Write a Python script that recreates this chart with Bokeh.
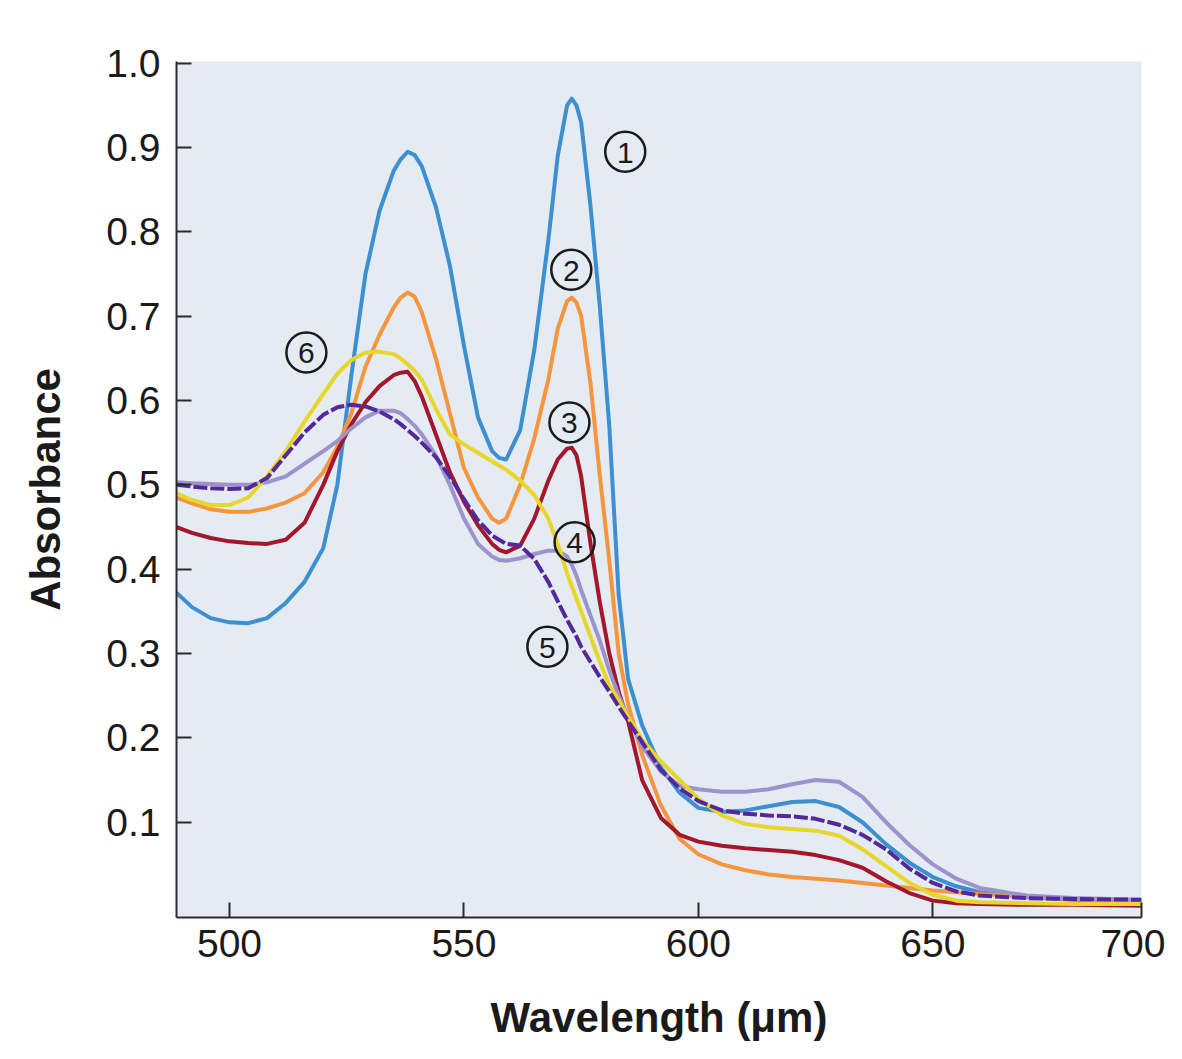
from bokeh.plotting import figure
from bokeh.models import ColumnDataSource, FixedTicker, Range1d
from bokeh.core.properties import value
from bokeh.embed import file_html
from bokeh.resources import INLINE

# ---------------- data ----------------
wavelength = [488.7, 492, 496, 500, 504, 508, 512, 516, 520, 523, 526, 529, 532, 535, 536.5, 538, 539.5,
              541, 544, 547, 550, 553, 556, 557.5, 559, 562, 565, 568, 570, 572, 573, 574, 575, 577, 579,
              581, 583, 585, 588, 592, 596, 600, 605, 610, 615, 620, 625, 630, 635, 640,
              645, 650, 655, 660, 670, 680, 694.5]

curve1 = [0.372, 0.355, 0.342, 0.337, 0.336, 0.342, 0.36, 0.385, 0.425, 0.50, 0.63, 0.75, 0.825, 0.872, 0.886, 0.895, 0.891,
          0.878, 0.83, 0.76, 0.665, 0.58, 0.54, 0.532, 0.53, 0.565, 0.66, 0.79, 0.89, 0.95, 0.958, 0.95, 0.93, 0.83, 0.71,
          0.57, 0.37, 0.27, 0.215, 0.165, 0.135, 0.117, 0.112, 0.114, 0.119, 0.124, 0.125, 0.118, 0.10, 0.074,
          0.052, 0.035, 0.024, 0.017, 0.011, 0.008, 0.005]

curve2 = [0.485, 0.478, 0.471, 0.468, 0.468, 0.472, 0.479, 0.49, 0.515, 0.545, 0.585, 0.64, 0.678, 0.71, 0.722, 0.728, 0.723,
          0.705, 0.65, 0.585, 0.52, 0.485, 0.46, 0.455, 0.46, 0.50, 0.555, 0.625, 0.685, 0.718, 0.722, 0.716, 0.70, 0.62, 0.51,
          0.41, 0.30, 0.24, 0.18, 0.12, 0.08, 0.062, 0.05, 0.043, 0.038, 0.035, 0.033, 0.031, 0.028, 0.025,
          0.022, 0.019, 0.017, 0.015, 0.012, 0.009, 0.006]

curve3 = [0.45, 0.443, 0.437, 0.433, 0.431, 0.43, 0.435, 0.455, 0.50, 0.54, 0.572, 0.598, 0.617, 0.63, 0.633, 0.634, 0.623,
          0.605, 0.56, 0.515, 0.48, 0.452, 0.43, 0.423, 0.42, 0.428, 0.46, 0.505, 0.53, 0.543, 0.544, 0.535, 0.51, 0.43, 0.36,
          0.30, 0.255, 0.22, 0.15, 0.105, 0.085, 0.077, 0.072, 0.069, 0.067, 0.065, 0.061, 0.055, 0.046, 0.03,
          0.016, 0.007, 0.004, 0.003, 0.002, 0.002, 0.001]

curve4 = [0.503, 0.502, 0.501, 0.50, 0.50, 0.503, 0.51, 0.525, 0.54, 0.552, 0.567, 0.58, 0.588, 0.588, 0.585, 0.578, 0.57,
          0.56, 0.535, 0.50, 0.46, 0.43, 0.415, 0.411, 0.41, 0.413, 0.418, 0.422, 0.422, 0.415, 0.405, 0.392, 0.375, 0.345, 0.315,
          0.28, 0.25, 0.225, 0.19, 0.16, 0.143, 0.139, 0.136, 0.136, 0.139, 0.145, 0.15, 0.148, 0.13, 0.10,
          0.073, 0.05, 0.033, 0.022, 0.013, 0.01, 0.008]

curve5 = [0.50, 0.498, 0.496, 0.495, 0.496, 0.508, 0.535, 0.562, 0.583, 0.592, 0.595, 0.593, 0.587, 0.578, 0.572, 0.565, 0.558,
          0.55, 0.533, 0.51, 0.483, 0.458, 0.44, 0.435, 0.43, 0.428, 0.412, 0.385, 0.362, 0.34, 0.33, 0.32, 0.308, 0.29, 0.272,
          0.255, 0.237, 0.22, 0.195, 0.162, 0.14, 0.125, 0.114, 0.11, 0.108, 0.107, 0.104, 0.097, 0.085, 0.068,
          0.045, 0.028, 0.018, 0.013, 0.01, 0.009, 0.008]

curve6 = [0.49, 0.482, 0.476, 0.476, 0.485, 0.51, 0.54, 0.575, 0.608, 0.632, 0.648, 0.657, 0.658, 0.655, 0.65, 0.643, 0.635,
          0.625, 0.59, 0.56, 0.548, 0.538, 0.528, 0.523, 0.518, 0.505, 0.488, 0.46, 0.43, 0.395, 0.38, 0.365, 0.35, 0.32, 0.29,
          0.262, 0.245, 0.225, 0.198, 0.172, 0.15, 0.128, 0.108, 0.098, 0.094, 0.092, 0.09, 0.084, 0.068, 0.048,
          0.028, 0.014, 0.007, 0.005, 0.004, 0.003, 0.003]

label_text = ["1", "2", "3", "4", "5", "6"]
label_x = [584.4, 572.9, 572.5, 573.6, 567.8, 516.4]
label_y = [0.895, 0.755, 0.574, 0.432, 0.308, 0.657]

x_ticks = [500, 550, 600, 650, 694.5]
x_tick_labels = ["500", "550", "600", "650", "700"]
y_ticks = [0.1, 0.2, 0.3, 0.4, 0.5, 0.6, 0.7, 0.8, 0.9, 1.0]

# ---------------- figure ----------------
FONT = "Liberation Sans"

p = figure(frame_width=965, frame_height=856,
           min_border_left=176, min_border_top=61, min_border_right=24, min_border_bottom=100,
           x_range=Range1d(488.7, 694.5), y_range=Range1d(-0.013, 1.002),
           output_backend="svg", toolbar_location=None,
           background_fill_color="#e4ebf3", border_fill_color="white")

p.outline_line_color = None
p.xgrid.visible = False
p.ygrid.visible = False

styles = [
    (curve1, "#3d8fd0", None),
    (curve2, "#f5963f", None),
    (curve3, "#a3162c", None),
    (curve4, "#9c93cc", None),
    (curve6, "#e9d62a", None),
    (curve5, "#55289a", "14 3"),
]
for ys, col, dash in styles:
    src = ColumnDataSource(dict(x=wavelength, y=ys))
    if dash:
        p.line("x", "y", source=src, line_color=col, line_width=4, line_dash=dash,
               line_join="round")
    else:
        p.line("x", "y", source=src, line_color=col, line_width=4, line_join="round")

lab = ColumnDataSource(dict(x=label_x, y=label_y, t=label_text))
p.scatter("x", "y", source=lab, marker="circle", size=40, fill_color=None,
          line_color="#1a1a1a", line_width=2.5)
p.text("x", "y", text="t", source=lab, text_align="center", text_baseline="middle",
       text_font=value(FONT), text_font_size="30px", text_color="#1a1a1a", y_offset=1)

# axes
for ax in (p.xaxis[0], p.yaxis[0]):
    ax.axis_line_color = "#2a2a2a"
    ax.axis_line_width = 2
    ax.major_tick_line_color = "#2a2a2a"
    ax.major_tick_line_width = 2
    ax.major_tick_in = 15
    ax.major_tick_out = 0
    ax.minor_tick_line_color = None
    ax.major_label_text_font = FONT
    ax.major_label_text_font_size = "39px"
    ax.major_label_text_color = "#1a1a1a"
    ax.axis_label_text_font = FONT
    ax.axis_label_text_font_size = "42px"
    ax.axis_label_text_font_style = "bold"
    ax.axis_label_text_color = "#1a1a1a"

p.xaxis.ticker = FixedTicker(ticks=x_ticks)
p.xaxis.major_label_overrides = {t: s for t, s in zip(x_ticks, x_tick_labels)}
p.xaxis.major_label_standoff = 12
p.xaxis.axis_label = "Wavelength (μm)"
p.xaxis.axis_label_standoff = 34

p.yaxis.ticker = FixedTicker(ticks=y_ticks)
p.yaxis.major_label_overrides = {t: f"{t:.1f}" for t in y_ticks}
p.yaxis.major_label_standoff = 16
p.yaxis.axis_label = "Absorbance"
p.yaxis.axis_label_standoff = 34

open("out.html", "w").write(file_html(p, INLINE))
